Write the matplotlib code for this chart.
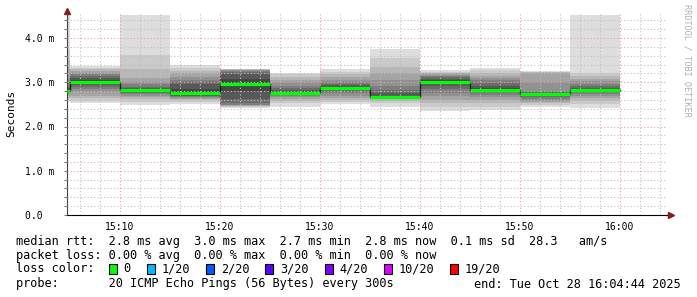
import numpy as np
import matplotlib
matplotlib.use("Agg")
import matplotlib.pyplot as plt
from matplotlib.patches import Rectangle

# ------------------------------------------------------------
# data, times in minutes past 15:00
# ------------------------------------------------------------
window_start = 4 + 44 / 60.0      # 15:04:44
window_end = 64 + 44 / 60.0       # 16:04:44
step_min = 5                      # 300 s step

# end time of each rrd step
step_end = [5, 10, 15, 20, 25, 30, 35, 40, 45, 50, 55, 60]

# 20 sorted ping rtts per step (ms)
pings = [
    [2.55, 2.60, 2.65, 2.70, 2.73, 2.76, 2.78, 2.79, 2.80, 2.80, 2.80, 2.83, 2.86, 2.90, 3.00, 3.10, 3.30, 3.50, 3.75, 4.52],
    [2.52, 2.58, 2.65, 2.70, 2.78, 2.85, 2.90, 2.93, 2.96, 2.99, 3.01, 3.05, 3.10, 3.14, 3.18, 3.22, 3.26, 3.30, 3.33, 3.36],
    [2.48, 2.55, 2.62, 2.66, 2.70, 2.73, 2.76, 2.78, 2.80, 2.81, 2.82, 2.84, 2.87, 2.90, 2.95, 3.00, 3.10, 3.30, 3.62, 4.52],
    [2.51, 2.56, 2.60, 2.63, 2.64, 2.66, 2.68, 2.70, 2.73, 2.76, 2.77, 2.85, 2.95, 3.01, 3.05, 3.12, 3.20, 3.26, 3.32, 3.39],
    [2.42, 2.44, 2.46, 2.47, 2.48, 2.49, 2.52, 2.62, 2.80, 2.94, 2.96, 3.08, 3.18, 3.24, 3.26, 3.27, 3.28, 3.29, 3.30, 3.31],
    [2.45, 2.52, 2.58, 2.62, 2.66, 2.70, 2.72, 2.74, 2.75, 2.76, 2.77, 2.79, 2.82, 2.86, 2.92, 3.00, 3.06, 3.12, 3.18, 3.22],
    [2.50, 2.55, 2.60, 2.65, 2.70, 2.75, 2.79, 2.82, 2.85, 2.87, 2.88, 2.90, 2.93, 2.96, 3.00, 3.05, 3.12, 3.18, 3.24, 3.30],
    [2.45, 2.52, 2.58, 2.62, 2.64, 2.65, 2.66, 2.66, 2.67, 2.67, 2.68, 2.70, 2.75, 2.82, 2.92, 3.05, 3.20, 3.35, 3.55, 3.75],
    [2.36, 2.45, 2.52, 2.60, 2.68, 2.76, 2.84, 2.92, 2.97, 3.00, 3.02, 3.05, 3.08, 3.11, 3.14, 3.17, 3.20, 3.22, 3.24, 3.27],
    [2.38, 2.45, 2.52, 2.60, 2.66, 2.72, 2.77, 2.80, 2.82, 2.83, 2.84, 2.87, 2.92, 2.98, 3.04, 3.10, 3.15, 3.22, 3.28, 3.33],
    [2.45, 2.48, 2.52, 2.55, 2.58, 2.62, 2.66, 2.70, 2.72, 2.73, 2.74, 2.75, 2.76, 2.78, 2.80, 3.00, 3.20, 3.23, 3.24, 3.25],
    [2.42, 2.50, 2.58, 2.64, 2.70, 2.74, 2.77, 2.79, 2.80, 2.81, 2.82, 2.84, 2.87, 2.91, 2.96, 3.02, 3.08, 3.15, 3.20, 4.52],
]

xtick_min = [10, 20, 30, 40, 50, 60]
xtick_labels = ["15:10", "15:20", "15:30", "15:40", "15:50", "16:00"]
ytick_ms = [0, 1, 2, 3, 4]
ytick_labels = ["0.0  ", "1.0 m", "2.0 m", "3.0 m", "4.0 m"]

legend_rtt = "median rtt:  2.8 ms avg  3.0 ms max  2.7 ms min  2.8 ms now  0.1 ms sd  28.3   am/s"
legend_loss = "packet loss: 0.00 % avg  0.00 % max  0.00 % min  0.00 % now"
legend_probe = "probe:       20 ICMP Echo Pings (56 Bytes) every 300s"
legend_end = "end: Tue Oct 28 16:04:44 2025"
loss_labels = ["0", "1/20", "2/20", "3/20", "4/20", "10/20", "19/20"]
loss_colors = ["#00ff00", "#00b8ff", "#0059ff", "#5e00ff", "#7e00ff", "#dd00ff", "#ff0000"]

# ------------------------------------------------------------
W, H = 697, 297
MONO = "DejaVu Sans Mono"
plt.rcParams["font.family"] = [MONO]

fig = plt.figure(figsize=(W / 100, H / 100), dpi=100)
fig.patch.set_facecolor("white")
ax = fig.add_axes([67 / W, 1 - 215 / H, 600 / W, 203 / H])


def fx(px):
    return px / W


def fy(py):
    return 1 - py / H


# smoke
half = len(pings[0]) // 2
starts = [max(e - step_min, window_start) for e in step_end]
for s, e, p in zip(starts, step_end, pings):
    for k in range(len(p) - 1):
        g = int(190 / half * abs(half - (k + 1)) + 50)
        ax.bar(s, p[k + 1] - p[k], bottom=p[k], width=e - s, align="edge",
               color="#%02x%02x%02x" % (g, g, g), linewidth=0, zorder=1)

# median line
medians = [(p[half - 1] + p[half]) / 2 for p in pings]
xs = starts + [step_end[-1]]
ax.step(xs, medians + [medians[-1]], where="post", color="#202020", lw=1.0, zorder=3)
ax.hlines(medians, starts, step_end, color=loss_colors[0], lw=2.3, zorder=4)

# axes
ax.set_xlim(window_start, window_end)
ax.set_ylim(0, 203 / 44.25)
ax.set_xticks(xtick_min)
ax.set_xticklabels(xtick_labels)
ax.set_xticks(np.arange(6, 65, 2), minor=True)
ax.set_yticks(ytick_ms)
ax.set_yticklabels(ytick_labels)
ax.set_yticks(np.arange(0, 4.5, 0.2), minor=True)

ax.set_axisbelow(False)
ax.grid(which="minor", color="#c0c0c0", ls=(0, (1, 2)), lw=0.8)
ax.grid(which="major", color="#eca0a0", ls=(0, (1, 2)), lw=0.8)

for side in ["top", "right"]:
    ax.spines[side].set_visible(False)
ax.spines["left"].set_color("#404040")
ax.spines["bottom"].set_color("black")
ax.tick_params(axis="x", which="both", length=0, pad=5, labelsize=7)
ax.tick_params(axis="y", which="both", length=2, width=0.6, color="#606060",
               pad=28, labelsize=7)
for lab in ax.get_yticklabels():
    lab.set_horizontalalignment("left")

# axis arrows
ax.plot([1.0, 1.004], [0, 0], transform=ax.transAxes, color="black", lw=1, clip_on=False)
ax.plot([1.007], [0], marker=">", ms=4, color="#8b1a1a", transform=ax.transAxes, clip_on=False)
ax.plot([0], [1.006], marker="^", ms=4, color="#8b1a1a", transform=ax.transAxes, clip_on=False)

# labels
fig.text(fx(11), fy(113), "Seconds", rotation=90, ha="center", va="center", fontsize=8)
fig.text(fx(687), fy(4), "RRDTOOL / TOBI OETIKER", rotation=270, ha="center", va="top",
         fontsize=6.1, color="#b0b0b0")

# legend
LS = 8.53
fig.text(fx(16), fy(241), legend_rtt, ha="left", va="center", fontsize=LS)
fig.text(fx(16), fy(255), legend_loss, ha="left", va="center", fontsize=LS)
fig.text(fx(16), fy(269), "loss color:", ha="left", va="center", fontsize=LS)
fig.text(fx(16), fy(284), legend_probe, ha="left", va="center", fontsize=LS)
fig.text(fx(681), fy(284), legend_end, ha="right", va="center", fontsize=LS)

cx = 109
for lab, col in zip(loss_labels, loss_colors):
    fig.patches.append(Rectangle((fx(cx), fy(274)), 8 / W, 10 / H, transform=fig.transFigure,
                                 facecolor=col, edgecolor="black", lw=0.8))
    fig.text(fx(cx + 14.5), fy(269), lab, ha="left", va="center", fontsize=LS)
    cx += 14.5 + len(lab) * 7.05 + 16.5

fig.savefig("out.png", dpi=100, facecolor="white")
